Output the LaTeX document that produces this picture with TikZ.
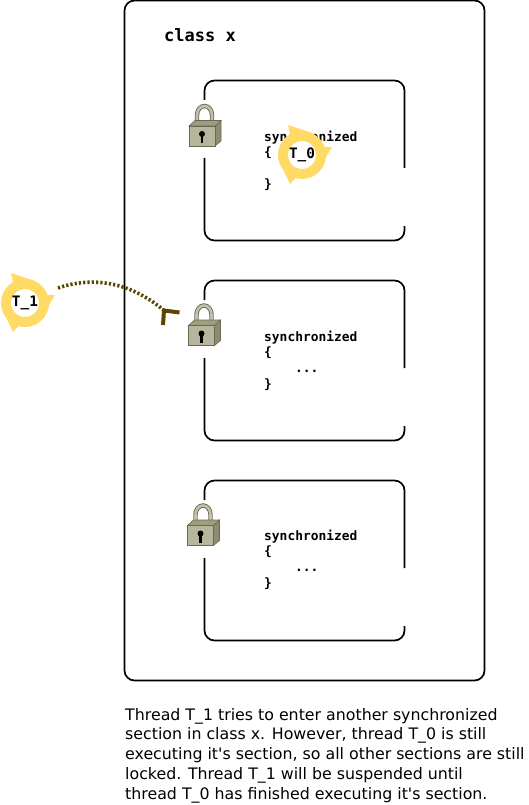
\documentclass[tikz,border=0pt]{standalone}
\usepackage{fontspec}
\setmainfont{DejaVu Sans}
\setmonofont{DejaVu Sans Mono}
\begin{document}
\begin{tikzpicture}[x=1pt,y=-1pt]

    \definecolor{ringcol}{HTML}{FFDB66}
    \definecolor{stopcol}{HTML}{5C4500}
    \definecolor{lockfront}{HTML}{B6B69C}
    \definecolor{lockside}{HTML}{8C8C6E}
    \definecolor{lockedge}{HTML}{6A6A52}

    \tikzset{boxline/.style={draw=black,line width=1.7pt,rounded corners=10pt}}
    \tikzset{codetext/.style={font=\fontsize{12.9}{15.7}\selectfont\ttfamily\bfseries,align=left,anchor=north west,inner sep=0pt}}
    \tikzset{threadlabel/.style={font=\fontsize{14.4}{16}\selectfont\ttfamily\bfseries,inner sep=0pt}}
    \tikzset{sectionbox/.pic={
        \draw[boxline] (404.5,168) -- (404.5,80.5) -- (204.5,80.5) -- (204.5,100);
        \draw[boxline] (204.5,158) -- (204.5,240.5) -- (404.5,240.5) -- (404.5,226);
    }}
    \tikzset{lockicon/.pic={
        \draw[lockedge,line width=4.4pt] (197,128) -- (197,115) arc (180:360:7.5 and 9) -- (212,128);
        \draw[lockfront!85!white,line width=2.6pt] (197,128) -- (197,115) arc (180:360:7.5 and 9) -- (212,128);
        \draw[lockedge,fill=lockside,line width=.6pt] (215,126) -- (221,120.5) -- (221,141) -- (215,146) -- cycle;
        \draw[lockedge,fill=lockside!60!lockfront,line width=.6pt] (189,126) -- (195,120.5) -- (221,120.5) -- (215,126) -- cycle;
        \draw[lockedge,fill=lockfront,line width=.6pt] (189,126) rectangle (215,146);
        \fill[black] (202,134) circle (3pt);
        \fill[black] (200.8,134) rectangle (203.2,143);
    }}
    \tikzset{threadicon/.pic={
        \draw[ringcol,fill=white,line width=10pt] (0,0) circle (19pt);
        \fill[ringcol] (-14,-30) -- (10,-22) -- (-10,-11) -- cycle;
        \fill[ringcol] (30,-8) -- (21,7) -- (14,-8) -- cycle;
        \fill[ringcol] (-12,29) -- (-20,12) -- (-2,18) -- cycle;
    }}

    \useasboundingbox (0,0) rectangle (529,805);

    \draw[boxline] (124.5,0.5) rectangle (484.5,680.5);
    \node[anchor=west,inner sep=0pt,font=\fontsize{17}{20}\selectfont\ttfamily\bfseries] (classname) at (164,35) {class x};

    \pic at (0,0) {sectionbox};
    \pic at (0,200) {sectionbox};
    \pic at (0,400) {sectionbox};

    \pic at (0,0) {lockicon};
    \pic at (-0.5,199.5) {lockicon};
    \pic at (-1.5,399.5) {lockicon};

    \node[codetext] (code0) at (264,130.5) {synchronized\\\{\\\mbox{}\\\}};
    \node[codetext] (code1) at (264,330.5) {synchronized\\\{\\\hspace*{31pt}...\\\}};
    \node[codetext] (code2) at (264,529.5) {synchronized\\\{\\\hspace*{31pt}...\\\}};

    \pic at (302,155) {threadicon};
    \node[threadlabel] (t0) at (302,155) {T\_0};
    \pic at (25,303) {threadicon};
    \node[threadlabel] (t1) at (25,303) {T\_1};

    \coordinate (pathstart) at (58,288);
    \coordinate (stopcorner) at (164,310.5);
    \coordinate (stopright) at (179.5,312.5);
    \coordinate (stopdown) at (163,325);

    \draw[stopcol,line width=3.6pt,dash pattern=on 2.2pt off 2.1pt] (pathstart) .. controls (90,277) and (128,280) .. (stopcorner);
    \draw[stopcol,line width=4pt] (stopright) -- (stopcorner) -- (stopdown);

    \node[anchor=north west,inner sep=0pt,align=left,font=\fontsize{15.8}{19.7}\selectfont] (caption) at (125,708) {Thread T\_1 tries to enter another synchronized\\section in class x. However, thread T\_0 is still\\executing it\textquotesingle s section, so all other sections are still\\locked. Thread T\_1 will be suspended until\\thread T\_0 has finished executing it\textquotesingle s section.};

\end{tikzpicture}
\end{document}
